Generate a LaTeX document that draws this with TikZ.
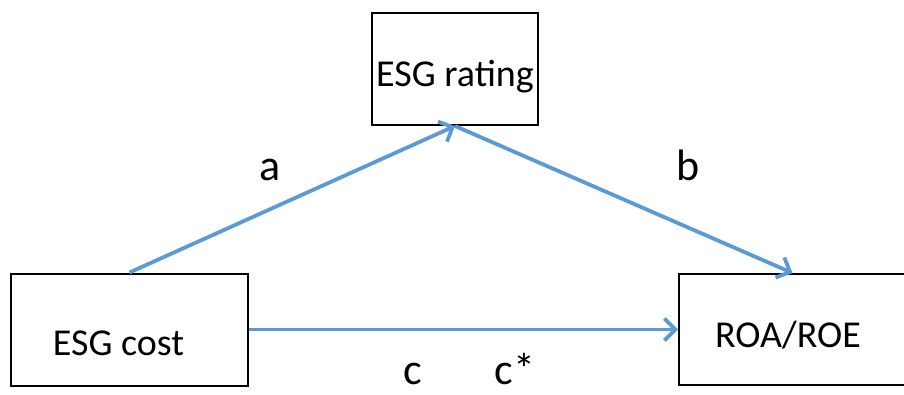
\documentclass[tikz,border=0pt]{standalone}
\usepackage{fontspec}
\setmainfont{Carlito}
\usetikzlibrary{arrows.meta}
\definecolor{pathblue}{RGB}{91,155,213}
\tikzset{
  box/.style={draw=black, line width=2pt, inner sep=0pt},
  boxtext/.style={anchor=base, inner sep=0pt, font=\fontsize{38}{40}\selectfont},
  effectlabel/.style={anchor=base, inner sep=0pt, font=\fontsize{44}{46}\selectfont},
  effect/.style={draw=pathblue, line width=3.8pt,
    -{Straight Barb[length=11pt,width=22pt]}}
}
\begin{document}
\begin{tikzpicture}[x=1pt,y=-1pt]
\useasboundingbox (0,0) rectangle (904,394);
% boxes
\node[box, minimum width=166pt, minimum height=112pt] (rating) at (455,69) {};
\node[box, minimum width=237pt, minimum height=112pt] (cost) at (129.5,329.5) {};
\node[box, minimum width=227pt, minimum height=111pt] (roa) at (792.5,329.5) {};
\node[boxtext] (ratingtext) at (455,86) {ESG rating};
\node[boxtext] (costtext) at (118.5,355) {ESG cost};
\node[boxtext] (roatext) at (788,347) {ROA/ROE};
% paths
\draw[effect] (cost.north) -- (rating.south);
\draw[effect] (rating.south) -- (roa.north);
\draw[effect] (cost.east) -- (roa.west);
\node[effectlabel] (a) at (270,180) {a};
\node[effectlabel] (b) at (688,180) {b};
\node[effectlabel] (c) at (413,384) {c};
\node[effectlabel] (cstar) at (515,384) {c*};
\end{tikzpicture}
\end{document}
